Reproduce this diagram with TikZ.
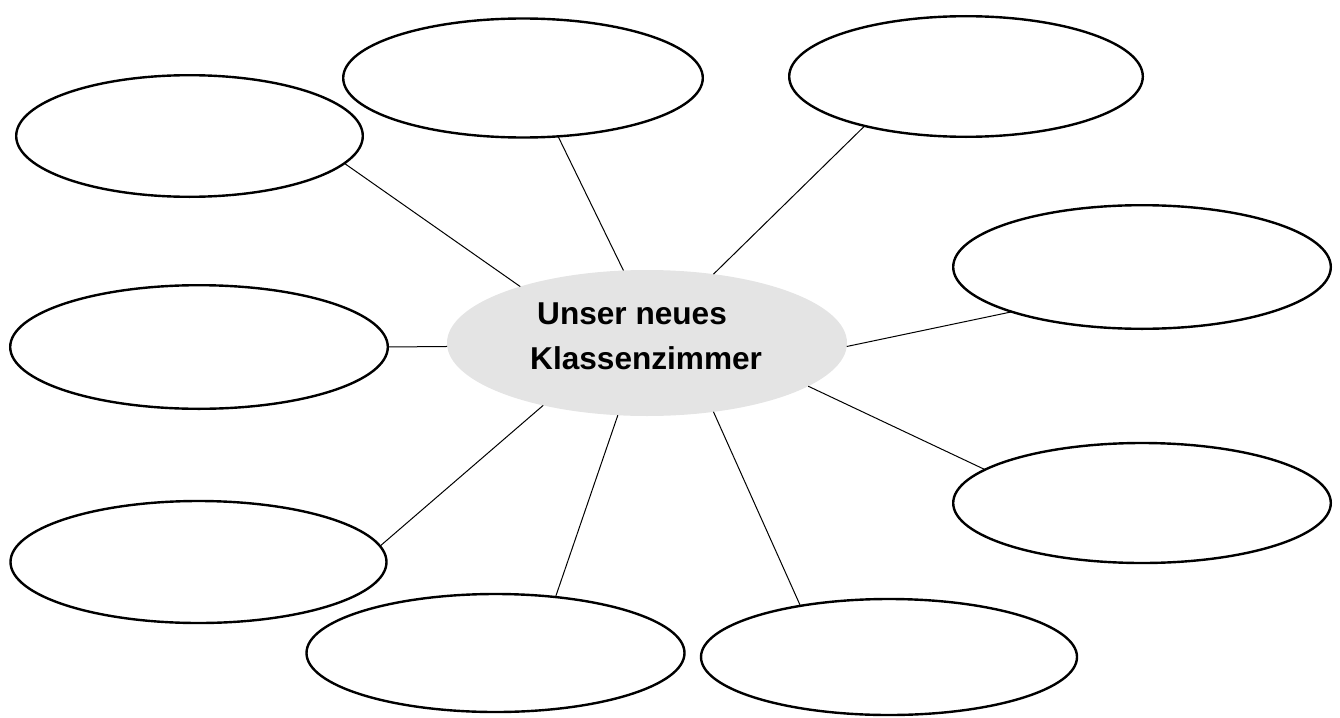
\documentclass[tikz,border=0pt]{standalone}
\usepackage{fontspec}
\setmainfont{Liberation Sans}
\usetikzlibrary{shapes.geometric}
\tikzset{
  bubble/.style={ellipse, draw=black, line width=2.4pt, fill=white, inner sep=0pt, outer sep=0pt},
  hub/.style={ellipse, fill=hubgrey, draw=none, inner sep=0pt, outer sep=0pt,
              minimum width=400pt, minimum height=146pt},
  spoke/.style={draw=black, line width=1pt},
  title/.style={anchor=base west, inner sep=0pt, font=\bfseries\fontsize{31.6}{45}\selectfont}
}
\definecolor{hubgrey}{HTML}{E4E4E4}
\begin{document}
\begin{tikzpicture}[x=1pt, y=-1pt]
\useasboundingbox (0,0) rectangle (1340,717);
% hub
\node[hub] (c) at (647,343) {};
\node[title] (t1) at (537,324) {Unser neues};
\node[title] (t2) at (530,369) {Klassenzimmer};
% outer bubbles
\node[bubble, minimum width=346.6pt, minimum height=121.6pt] (A) at (189.5,136) {};
\node[bubble, minimum width=359.6pt, minimum height=119pt]   (B) at (523,78) {};
\node[bubble, minimum width=353.6pt, minimum height=120.6pt] (C) at (966,76.5) {};
\node[bubble, minimum width=377.6pt, minimum height=123.6pt] (D) at (1142,267) {};
\node[bubble, minimum width=377.6pt, minimum height=123.6pt] (E) at (199,347) {};
\node[bubble, minimum width=377.6pt, minimum height=120pt]   (F) at (1142,503) {};
\node[bubble, minimum width=376pt, minimum height=122pt]     (G) at (198.5,562) {};
\node[bubble, minimum width=378pt, minimum height=118pt]     (H) at (495.5,653) {};
\node[bubble, minimum width=376pt, minimum height=116pt]     (I) at (889,657) {};
% spokes
\draw[spoke] (A.-10.65) -- (c.156.2);
\draw[spoke] (B.-59.9)  -- (c.108.9);
\draw[spoke] (C.-154.5) -- (c.46.6);
\draw[spoke] (D.-161.1) -- (c.-1.15);
\draw[spoke] (E.0)      -- (c.181);
\draw[spoke] (F.168.8)  -- (c.-15.1);
\draw[spoke] (G.5.9)    -- (c.-149.9);
\draw[spoke] (H.43.8)   -- (c.-112.1);
\draw[spoke] (I.150.3)  -- (c.-46.6);
\end{tikzpicture}
\end{document}
